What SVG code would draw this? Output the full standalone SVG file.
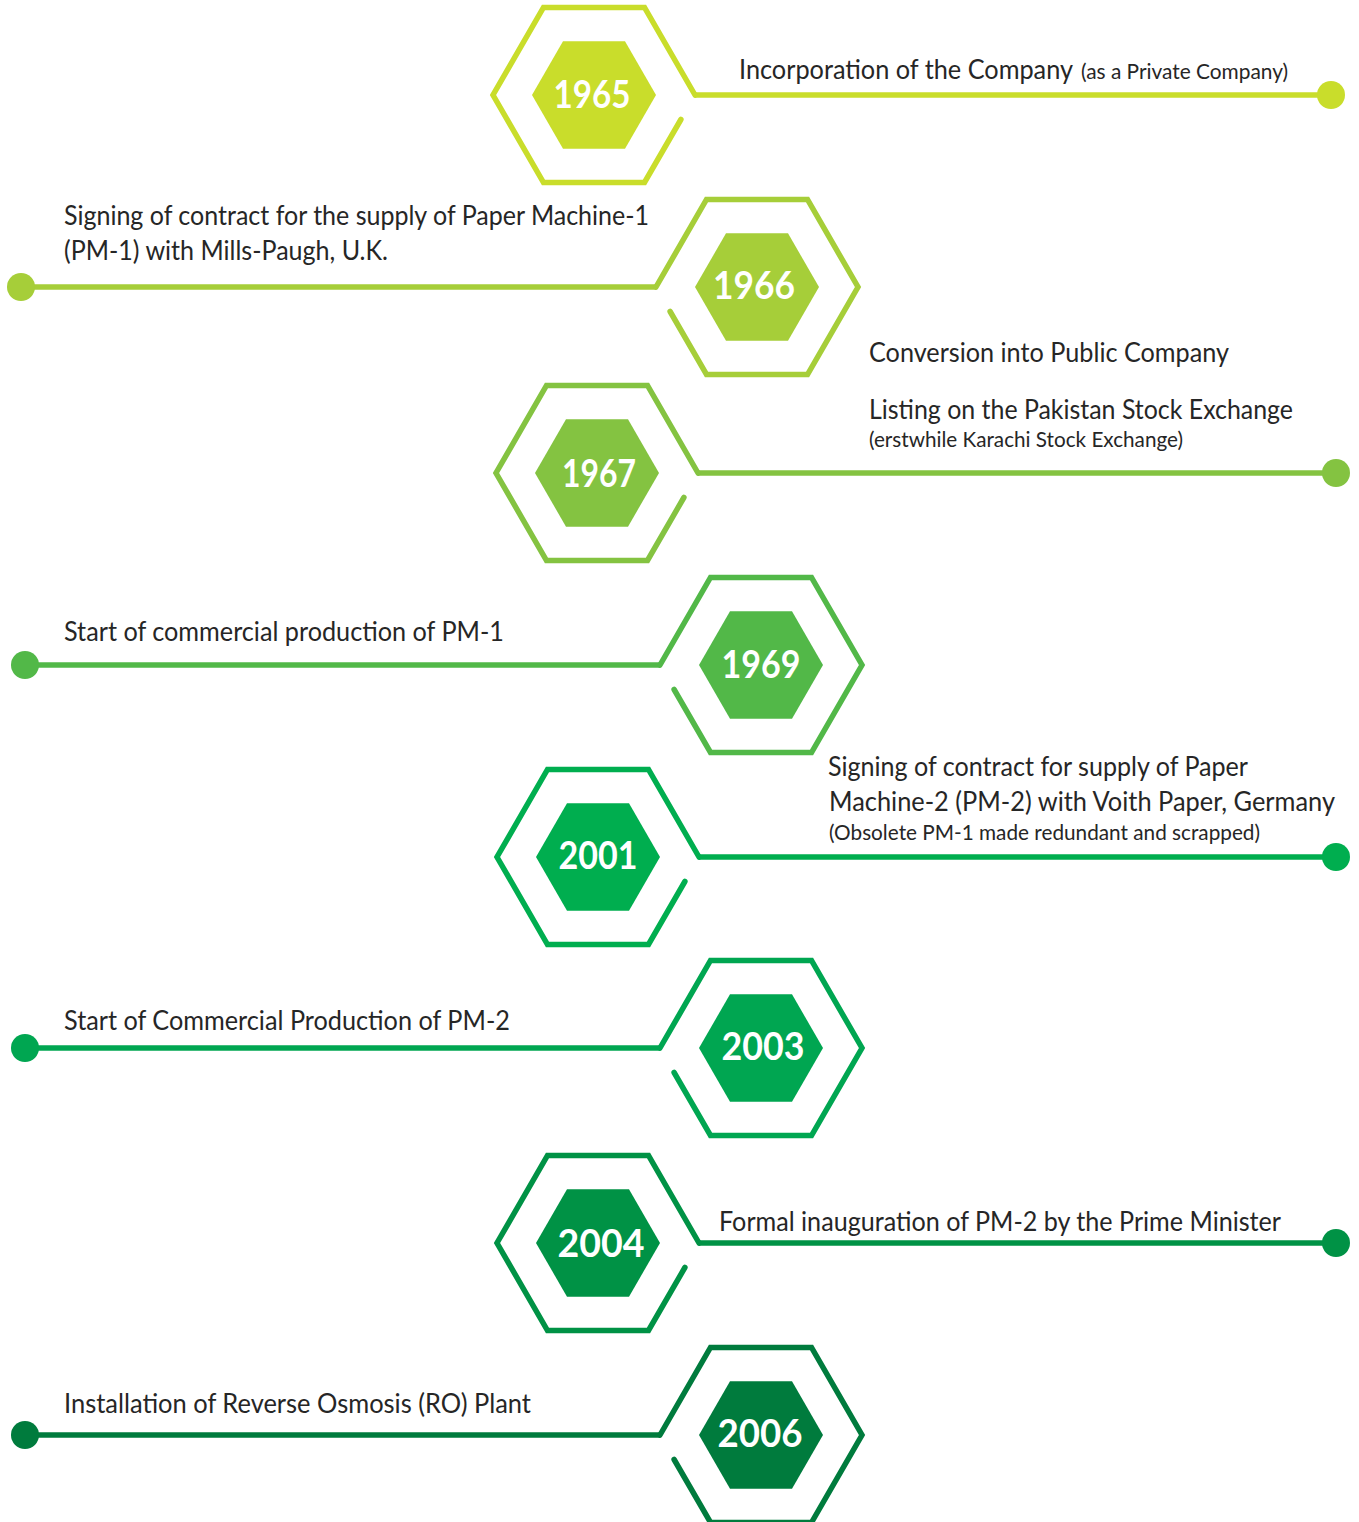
<svg xmlns="http://www.w3.org/2000/svg" xmlns:xlink="http://www.w3.org/1999/xlink" width="1359" height="1522" viewBox="0 0 1359 1522">
<style>
.hex{fill:none;stroke-width:5.5;stroke-linejoin:miter;stroke-linecap:round}
.yr{font-family:Lato,"Noto Sans",sans-serif;font-weight:bold;font-size:38px;fill:#ffffff;text-anchor:middle}
.lb{font-family:Lato,"Noto Sans",sans-serif;font-size:26px;fill:#262626}
.sm{font-size:21px}
.cn line{stroke-width:5.5}
</style>
<defs>
<path id="hexL" d="M86.9,24.5 L50.5,87.5 L-50.5,87.5 L-101,0 L-50.5,-87.5 L50.5,-87.5 L101,0"/>
<path id="hexR" d="M-86.9,24.5 L-50.5,87.5 L50.5,87.5 L101,0 L50.5,-87.5 L-50.5,-87.5 L-101,0"/>
<polygon id="inner" points="62,0 31,53.7 -31,53.7 -62,0 -31,-53.7 31,-53.7"/>
</defs>
<rect width="1359" height="1522" fill="#ffffff"/>
<g id="connectors" class="cn">
<line x1="695" y1="95" x2="1331" y2="95" stroke="#c9dd2b"/><circle cx="1331" cy="95" r="14" fill="#c9dd2b"/>
<line x1="21" y1="287" x2="656" y2="287" stroke="#a6ce39"/><circle cx="21" cy="287" r="14" fill="#a6ce39"/>
<line x1="698" y1="473" x2="1336" y2="473" stroke="#84c341"/><circle cx="1336" cy="473" r="14" fill="#84c341"/>
<line x1="25" y1="665" x2="660" y2="665" stroke="#52b848"/><circle cx="25" cy="665" r="14" fill="#52b848"/>
<line x1="699" y1="857" x2="1336" y2="857" stroke="#00ae4f"/><circle cx="1336" cy="857" r="14" fill="#00ae4f"/>
<line x1="25" y1="1048" x2="660" y2="1048" stroke="#00a651"/><circle cx="25" cy="1048" r="14" fill="#00a651"/>
<line x1="699" y1="1243" x2="1336" y2="1243" stroke="#009245"/><circle cx="1336" cy="1243" r="14" fill="#009245"/>
<line x1="25" y1="1435" x2="660" y2="1435" stroke="#007b3d"/><circle cx="25" cy="1435" r="14" fill="#007b3d"/>
</g>
<g id="n1965">
<use href="#hexL" x="594" y="95" class="hex" stroke="#c9dd2b"/>
<use href="#inner" x="594" y="95" fill="#c9dd2b"/>
<text class="yr" x="592" y="108" textLength="77" lengthAdjust="spacingAndGlyphs">1965</text>
<text class="lb" x="739" y="79" textLength="334" lengthAdjust="spacingAndGlyphs">Incorporation of the Company</text>
<text class="lb sm" x="1081" y="79" textLength="207" lengthAdjust="spacingAndGlyphs">(as a Private Company)</text>
</g>
<g id="n1966">
<use href="#hexR" x="757" y="287" class="hex" stroke="#a6ce39"/>
<use href="#inner" x="757" y="287" fill="#a6ce39"/>
<text class="yr" x="754" y="299" textLength="82" lengthAdjust="spacingAndGlyphs">1966</text>
<text class="lb" x="64" y="225" textLength="585" lengthAdjust="spacingAndGlyphs">Signing of contract for the supply of Paper Machine-1</text>
<text class="lb" x="64" y="260" textLength="324" lengthAdjust="spacingAndGlyphs">(PM-1) with Mills-Paugh, U.K.</text>
<text class="lb" x="869" y="362" textLength="360" lengthAdjust="spacingAndGlyphs">Conversion into Public Company</text>
</g>
<g id="n1967">
<use href="#hexL" x="597" y="473" class="hex" stroke="#84c341"/>
<use href="#inner" x="597" y="473" fill="#84c341"/>
<text class="yr" x="599" y="487" textLength="74" lengthAdjust="spacingAndGlyphs">1967</text>
<text class="lb" x="869" y="419" textLength="424" lengthAdjust="spacingAndGlyphs">Listing on the Pakistan Stock Exchange</text>
<text class="lb sm" x="869" y="447" textLength="314" lengthAdjust="spacingAndGlyphs">(erstwhile Karachi Stock Exchange)</text>
</g>
<g id="n1969">
<use href="#hexR" x="761" y="665" class="hex" stroke="#52b848"/>
<use href="#inner" x="761" y="665" fill="#52b848"/>
<text class="yr" x="761" y="678" textLength="79" lengthAdjust="spacingAndGlyphs">1969</text>
<text class="lb" x="64" y="641" textLength="440" lengthAdjust="spacingAndGlyphs">Start of commercial production of PM-1</text>
</g>
<g id="n2001">
<use href="#hexL" x="598" y="857" class="hex" stroke="#00ae4f"/>
<use href="#inner" x="598" y="857" fill="#00ae4f"/>
<text class="yr" x="598" y="869" textLength="79" lengthAdjust="spacingAndGlyphs">2001</text>
<text class="lb" x="828" y="776" textLength="420" lengthAdjust="spacingAndGlyphs">Signing of contract for supply of Paper</text>
<text class="lb" x="829" y="811" textLength="506" lengthAdjust="spacingAndGlyphs">Machine-2 (PM-2) with Voith Paper, Germany</text>
<text class="lb sm" x="829" y="840" textLength="431" lengthAdjust="spacingAndGlyphs">(Obsolete PM-1 made redundant and scrapped)</text>
</g>
<g id="n2003">
<use href="#hexR" x="761" y="1048" class="hex" stroke="#00a651"/>
<use href="#inner" x="761" y="1048" fill="#00a651"/>
<text class="yr" x="763" y="1060" textLength="83" lengthAdjust="spacingAndGlyphs">2003</text>
<text class="lb" x="64" y="1030" textLength="446" lengthAdjust="spacingAndGlyphs">Start of Commercial Production of PM-2</text>
</g>
<g id="n2004">
<use href="#hexL" x="598" y="1243" class="hex" stroke="#009245"/>
<use href="#inner" x="598" y="1243" fill="#009245"/>
<text class="yr" x="601" y="1257" textLength="87" lengthAdjust="spacingAndGlyphs">2004</text>
<text class="lb" x="719" y="1231" textLength="562" lengthAdjust="spacingAndGlyphs">Formal inauguration of PM-2 by the Prime Minister</text>
</g>
<g id="n2006">
<use href="#hexR" x="761" y="1435" class="hex" stroke="#007b3d"/>
<use href="#inner" x="761" y="1435" fill="#007b3d"/>
<text class="yr" x="760" y="1447" textLength="85" lengthAdjust="spacingAndGlyphs">2006</text>
<text class="lb" x="64" y="1413" textLength="467" lengthAdjust="spacingAndGlyphs">Installation of Reverse Osmosis (RO) Plant</text>
</g>
</svg>
